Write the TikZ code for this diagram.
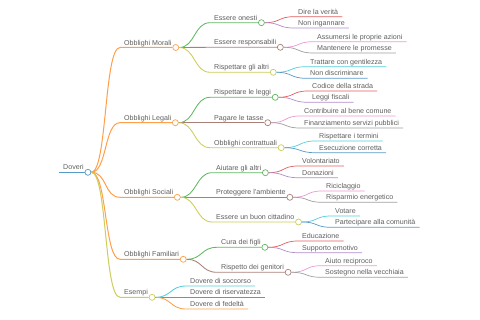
\documentclass[tikz,border=0pt]{standalone}
\usepackage{fontspec}
\setmainfont{Liberation Sans}
\definecolor{cblue}{HTML}{1F77B4}
\definecolor{corange}{HTML}{FF7F0E}
\definecolor{cgreen}{HTML}{2CA02C}
\definecolor{cred}{HTML}{D62728}
\definecolor{cpurple}{HTML}{9467BD}
\definecolor{cbrown}{HTML}{8C564B}
\definecolor{cpink}{HTML}{E377C2}
\definecolor{cgray}{HTML}{7F7F7F}
\definecolor{colive}{HTML}{BCBD22}
\definecolor{ccyan}{HTML}{17BECF}
\definecolor{txtgray}{HTML}{5E5E5E}
\tikzset{
    topic/.style={anchor=south west, inner xsep=4pt, inner ysep=0pt, text height=5pt, text depth=2.2pt, font=\fontsize{7.1}{8}\selectfont, text=txtgray},
    knot/.style={circle, draw=#1!75!white, fill=white, line width=0.7pt, minimum size=6pt, inner sep=0pt},
    twig/.style={out=0, in=180, distance=16pt},
    lev1/.style={draw=#1!75!white, line width=1pt},
    lev2/.style={draw=#1!75!white, line width=0.85pt},
    lev3/.style={draw=#1!75!white, line width=0.7pt}
}
\begin{document}
\begin{tikzpicture}[x=1pt, y=-1pt]
    \useasboundingbox (0,0) rectangle (480,320);
    % root
    \node[topic] (dov) at (59,172.3) {Doveri};
    \node[knot=cblue] (dov-c) at (dov.south east) {};
    \draw[lev1=cblue] (dov.south west) -- (dov-c);

    % Obblighi Morali
    \node[topic] (mor) at (120,47.5) {Obblighi Morali};
    \node[knot=corange] (mor-c) at (mor.south east) {};
    \draw[lev1=corange] (dov-c) to[twig] (mor.south west) -- (mor-c);

    \node[topic] (one) at (210,22.7) {Essere onesti};
    \node[knot=cgreen] (one-c) at (one.south east) {};
    \draw[lev2=cgreen] (mor-c) to[twig] (one.south west) -- (one-c);
    \node[topic] (ver) at (294,16.7) {Dire la verità};
    \draw[lev3=cred] (one-c) to[twig] (ver.south west) -- (ver.south east);
    \node[topic] (ing) at (294,28) {Non ingannare};
    \draw[lev3=cpurple] (one-c) to[twig] (ing.south west) -- (ing.south east);

    \node[topic] (res) at (210,47.3) {Essere responsabili};
    \node[knot=cbrown] (res-c) at (res.south east) {};
    \draw[lev2=cbrown] (mor-c) to[twig] (res.south west) -- (res-c);
    \node[topic] (azi) at (313,41.7) {Assumersi le proprie azioni};
    \draw[lev3=cpink] (res-c) to[twig] (azi.south west) -- (azi.south east);
    \node[topic] (pro) at (313,53) {Mantenere le promesse};
    \draw[lev3=cgray] (res-c) to[twig] (pro.south west) -- (pro.south east);

    \node[topic] (alt) at (210,72.3) {Rispettare gli altri};
    \node[knot=colive] (alt-c) at (alt.south east) {};
    \draw[lev2=colive] (mor-c) to[twig] (alt.south west) -- (alt-c);
    \node[topic] (gen) at (306,66.7) {Trattare con gentilezza};
    \draw[lev3=ccyan] (alt-c) to[twig] (gen.south west) -- (gen.south east);
    \node[topic] (dis) at (306,78.3) {Non discriminare};
    \draw[lev3=cblue] (alt-c) to[twig] (dis.south west) -- (dis.south east);

    % Obblighi Legali
    \node[topic] (leg) at (120,122.7) {Obblighi Legali};
    \node[knot=corange] (leg-c) at (leg.south east) {};
    \draw[lev1=corange] (dov-c) to[twig] (leg.south west) -- (leg-c);

    \node[topic] (lgg) at (210,97.3) {Rispettare le leggi};
    \node[knot=cgreen] (lgg-c) at (lgg.south east) {};
    \draw[lev2=cgreen] (leg-c) to[twig] (lgg.south west) -- (lgg-c);
    \node[topic] (cod) at (308,91) {Codice della strada};
    \draw[lev3=cred] (lgg-c) to[twig] (cod.south west) -- (cod.south east);
    \node[topic] (fis) at (308,102.3) {Leggi fiscali};
    \draw[lev3=cpurple] (lgg-c) to[twig] (fis.south west) -- (fis.south east);

    \node[topic] (tas) at (210,122.7) {Pagare le tasse};
    \node[knot=cbrown] (tas-c) at (tas.south east) {};
    \draw[lev2=cbrown] (leg-c) to[twig] (tas.south west) -- (tas-c);
    \node[topic] (ben) at (300,116) {Contribuire al bene comune};
    \draw[lev3=cpink] (tas-c) to[twig] (ben.south west) -- (ben.south east);
    \node[topic] (fin) at (300,128) {Finanziamento servizi pubblici};
    \draw[lev3=cgray] (tas-c) to[twig] (fin.south west) -- (fin.south east);

    \node[topic] (con) at (210,147.7) {Obblighi contrattuali};
    \node[knot=colive] (con-c) at (con.south east) {};
    \draw[lev2=colive] (leg-c) to[twig] (con.south west) -- (con-c);
    \node[topic] (ter) at (315,141) {Rispettare i termini};
    \draw[lev3=ccyan] (con-c) to[twig] (ter.south west) -- (ter.south east);
    \node[topic] (ese) at (315,152.7) {Esecuzione corretta};
    \draw[lev3=cblue] (con-c) to[twig] (ese.south west) -- (ese.south east);

    % Obblighi Sociali
    \node[topic] (soc) at (120,197.3) {Obblighi Sociali};
    \node[knot=corange] (soc-c) at (soc.south east) {};
    \draw[lev1=corange] (dov-c) to[twig] (soc.south west) -- (soc-c);

    \node[topic] (aiu) at (212,172.7) {Aiutare gli altri};
    \node[knot=cgreen] (aiu-c) at (aiu.south east) {};
    \draw[lev2=cgreen] (soc-c) to[twig] (aiu.south west) -- (aiu-c);
    \node[topic] (vol) at (298,166) {Volontariato};
    \draw[lev3=cred] (aiu-c) to[twig] (vol.south west) -- (vol.south east);
    \node[topic] (don) at (298,177.7) {Donazioni};
    \draw[lev3=cpurple] (aiu-c) to[twig] (don.south west) -- (don.south east);

    \node[topic] (amb) at (212,197.3) {Proteggere l'ambiente};
    \node[knot=cbrown] (amb-c) at (amb.south east) {};
    \draw[lev2=cbrown] (soc-c) to[twig] (amb.south west) -- (amb-c);
    \node[topic] (ric) at (322,191) {Riciclaggio};
    \draw[lev3=cpink] (amb-c) to[twig] (ric.south west) -- (ric.south east);
    \node[topic] (ris) at (322,202.3) {Risparmio energetico};
    \draw[lev3=cgray] (amb-c) to[twig] (ris.south west) -- (ris.south east);

    \node[topic] (cit) at (212,222) {Essere un buon cittadino};
    \node[knot=colive] (cit-c) at (cit.south east) {};
    \draw[lev2=colive] (soc-c) to[twig] (cit.south west) -- (cit-c);
    \node[topic] (vot) at (331,216) {Votare};
    \draw[lev3=ccyan] (cit-c) to[twig] (vot.south west) -- (vot.south east);
    \node[topic] (com) at (331,227.3) {Partecipare alla comunità};
    \draw[lev3=cblue] (cit-c) to[twig] (com.south west) -- (com.south east);

    % Obblighi Familiari
    \node[topic] (fam) at (120,259.3) {Obblighi Familiari};
    \node[knot=corange] (fam-c) at (fam.south east) {};
    \draw[lev1=corange] (dov-c) to[twig] (fam.south west) -- (fam-c);

    \node[topic] (fig) at (217,247.3) {Cura dei figli};
    \node[knot=cgreen] (fig-c) at (fig.south east) {};
    \draw[lev2=cgreen] (fam-c) to[twig] (fig.south west) -- (fig-c);
    \node[topic] (edu) at (298,241) {Educazione};
    \draw[lev3=cred] (fig-c) to[twig] (edu.south west) -- (edu.south east);
    \node[topic] (emo) at (298,252.7) {Supporto emotivo};
    \draw[lev3=cpurple] (fig-c) to[twig] (emo.south west) -- (emo.south east);

    \node[topic] (gtr) at (217,272.3) {Rispetto dei genitori};
    \node[knot=cbrown] (gtr-c) at (gtr.south east) {};
    \draw[lev2=cbrown] (fam-c) to[twig] (gtr.south west) -- (gtr-c);
    \node[topic] (rec) at (321,265.7) {Aiuto reciproco};
    \draw[lev3=cpink] (gtr-c) to[twig] (rec.south west) -- (rec.south east);
    \node[topic] (vec) at (321,277.3) {Sostegno nella vecchiaia};
    \draw[lev3=cgray] (gtr-c) to[twig] (vec.south west) -- (vec.south east);

    % Esempi
    \node[topic] (esm) at (120,297.3) {Esempi};
    \node[knot=colive] (esm-c) at (esm.south east) {};
    \draw[lev1=colive] (dov-c) to[twig] (esm.south west) -- (esm-c);

    \node[topic] (soc1) at (186,286) {Dovere di soccorso};
    \draw[lev2=ccyan] (esm-c) to[twig] (soc1.south west) -- (soc1.south east);
    \node[topic] (rsv) at (186,297.3) {Dovere di riservatezza};
    \draw[lev2=cblue] (esm-c) to[twig] (rsv.south west) -- (rsv.south east);
    \node[topic] (fed) at (186,309) {Dovere di fedeltà};
    \draw[lev2=corange] (esm-c) to[twig] (fed.south west) -- (fed.south east);
\end{tikzpicture}
\end{document}
